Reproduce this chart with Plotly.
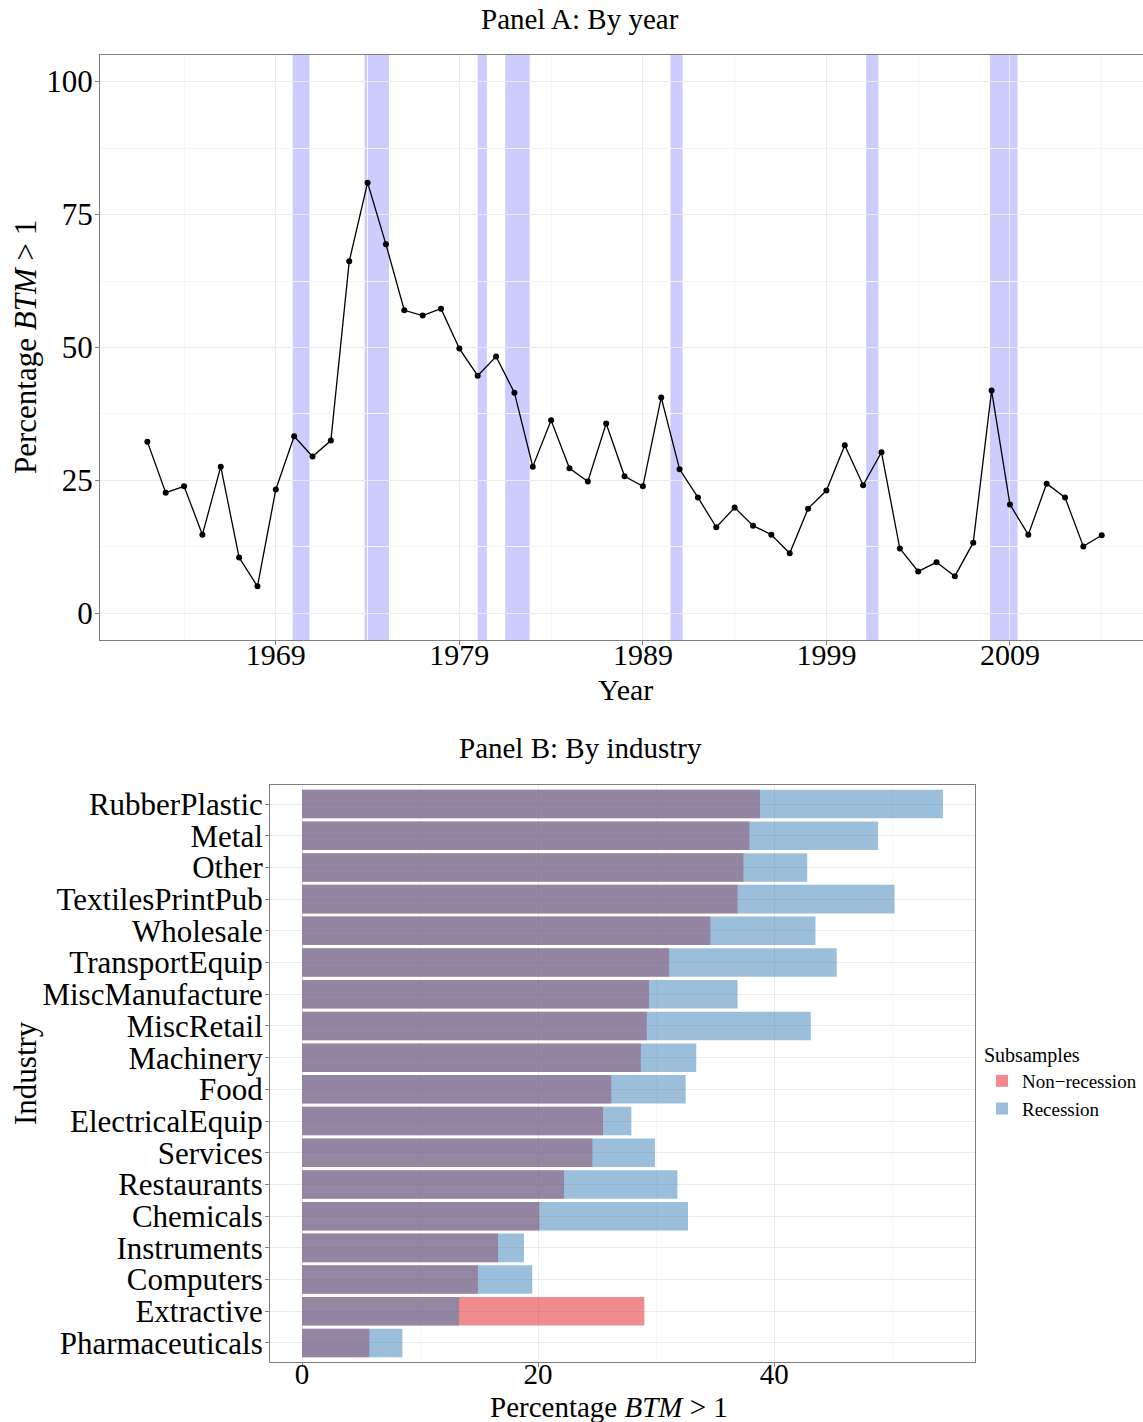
import plotly.graph_objects as go

# ---------------- Data ----------------
years = list(range(1962, 2015))
pct_btm = [32.3, 22.7, 23.9, 14.8, 27.6, 10.5, 5.1, 23.3, 33.3, 29.5,
           32.5, 66.2, 81.0, 69.4, 57.0, 56.0, 57.3, 49.8, 44.7, 48.3,
           41.5, 27.6, 36.3, 27.3, 24.8, 35.7, 25.8, 23.9, 40.6, 27.1,
           21.8, 16.2, 19.9, 16.5, 14.8, 11.3, 19.7, 23.1, 31.6, 24.1,
           30.3, 12.2, 7.9, 9.6, 7.0, 13.3, 41.9, 20.5, 14.8, 24.4,
           21.8, 12.6, 14.7]

recession_start = [1969.917, 1973.833, 1980.0, 1981.5, 1990.5, 2001.167, 2007.917]
recession_end = [1970.833, 1975.167, 1980.5, 1982.833, 1991.167, 2001.833, 2009.417]

year_ticks = [1969, 1979, 1989, 1999, 2009]
year_minor = [1964, 1974, 1984, 1994, 2004, 2014]
pct_ticks = [0, 25, 50, 75, 100]
pct_minor = [12.5, 37.5, 62.5, 87.5]

industries = ["RubberPlastic", "Metal", "Other", "TextilesPrintPub", "Wholesale",
              "TransportEquip", "MiscManufacture", "MiscRetail", "Machinery", "Food",
              "ElectricalEquip", "Services", "Restaurants", "Chemicals", "Instruments",
              "Computers", "Extractive", "Pharmaceuticals"]
non_recession = [38.8, 37.9, 37.4, 36.9, 34.6, 31.1, 29.4, 29.2, 28.7, 26.2,
                 25.5, 24.6, 22.2, 20.1, 16.6, 14.9, 29.0, 5.7]
recession = [54.3, 48.8, 42.8, 50.2, 43.5, 45.3, 36.9, 43.1, 33.4, 32.5,
             27.9, 29.9, 31.8, 32.7, 18.8, 19.5, 13.3, 8.5]
ind_ticks = [0, 20, 40]
ind_minor = [10, 30, 50]

# ---------------- Layout helpers ----------------
W, H = 1143, 1422
def px(x):
    return x / W
def py(y):
    return 1 - y / H

FONT = "Liberation Serif"
GRID = "#EBEBEB"
MINOR = "#F6F6F6"
BORDER = "#7F7F7F"

# bottom-to-top order for the category axis
ind_order = industries[::-1]
nr_order = non_recession[::-1]
r_order = recession[::-1]

fig = go.Figure()

fig.add_trace(go.Scatter(
    x=years, y=pct_btm, mode="lines+markers",
    line=dict(color="black", width=1.3),
    marker=dict(color="black", size=6),
    showlegend=False, xaxis="x", yaxis="y"))

fig.add_trace(go.Bar(
    y=ind_order, x=nr_order, orientation="h", name="Non\u2212recession",
    marker=dict(color="rgba(228,26,28,0.5)", line=dict(width=0)),
    width=0.9, xaxis="x2", yaxis="y2"))
fig.add_trace(go.Bar(
    y=ind_order, x=r_order, orientation="h", name="Recession",
    marker=dict(color="rgba(55,126,184,0.5)", line=dict(width=0)),
    width=0.9, xaxis="x2", yaxis="y2"))

shapes = []
for s, e in zip(recession_start, recession_end):
    shapes.append(dict(type="rect", xref="x", yref="y domain", x0=s, x1=e, y0=0, y1=1,
                       fillcolor="rgba(0,0,255,0.2)", line=dict(width=0), layer="below"))

tickfont = dict(family=FONT, size=30, color="black")

def ann(text, x, y, size=30, angle=0):
    return dict(text=text, x=px(x), y=py(y), showarrow=False,
                xref="paper", yref="paper", xanchor="center", yanchor="middle",
                textangle=angle, font=dict(family=FONT, size=size, color="black"))

annotations = [
    ann("Panel A: By year", 580, 19, 29),
    ann("Panel B: By industry", 580, 748, 29),
    ann("Year", 625, 689),
    ann("Percentage <i>BTM</i> &gt; 1", 25, 347, 31, -90),
    ann("Industry", 25, 1073, 31, -90),
    ann("Percentage <i>BTM</i> &gt; 1", 609, 1407, 29),
]

fig.update_layout(
    width=W, height=H, autosize=False,
    margin=dict(l=0, r=0, t=0, b=0, autoexpand=False),
    paper_bgcolor="white", plot_bgcolor="white",
    barmode="overlay",
    shapes=shapes, annotations=annotations,
    xaxis=dict(domain=[px(100), 1.0], range=[1959.42, 2016.25],
               tickmode="array", tickvals=year_ticks, ticktext=[str(v) for v in year_ticks],
               showgrid=True, gridcolor=GRID, gridwidth=1,
               minor=dict(tickvals=year_minor, showgrid=True, gridcolor=MINOR, gridwidth=1),
               zeroline=False, showline=True, linecolor=BORDER, linewidth=1, mirror=True,
               ticks="outside", ticklen=4, tickcolor=BORDER, tickfont=tickfont,
               ticklabelstandoff=-16, automargin=False, anchor="y"),
    yaxis=dict(domain=[py(640), py(55)], range=[-5, 105],
               tickmode="array", tickvals=pct_ticks,
               showgrid=True, gridcolor=GRID, gridwidth=1,
               minor=dict(tickvals=pct_minor, showgrid=True, gridcolor=MINOR, gridwidth=1),
               zeroline=False, showline=True, linecolor=BORDER, linewidth=1, mirror=False,
               ticks="outside", ticklen=4, tickcolor=BORDER,
               tickfont=dict(family=FONT, size=31, color="black"),
               ticklabelstandoff=-4, automargin=False, anchor="x"),
    xaxis2=dict(domain=[px(270), px(975)], range=[-2.715, 57.015],
                tickmode="array", tickvals=ind_ticks,
                showgrid=True, gridcolor=GRID, gridwidth=1,
                minor=dict(tickvals=ind_minor, showgrid=True, gridcolor=MINOR, gridwidth=1),
                zeroline=False, showline=True, linecolor=BORDER, linewidth=1, mirror=True,
                ticks="outside", ticklen=4, tickcolor=BORDER,
                tickfont=dict(family=FONT, size=29, color="black"),
                ticklabelstandoff=-18, automargin=False, anchor="y2"),
    yaxis2=dict(domain=[py(1362), py(785)], range=[-0.6, 17.6],
                type="category", categoryorder="array", categoryarray=ind_order,
                tickmode="array", tickvals=ind_order, ticktext=ind_order,
                showgrid=True, gridcolor=GRID, gridwidth=1,
                zeroline=False, showline=True, linecolor=BORDER, linewidth=1, mirror=True,
                ticks="outside", ticklen=4, tickcolor=BORDER,
                tickfont=dict(family=FONT, size=31, color="black"),
                ticklabelstandoff=-4, automargin=False, anchor="x2"),
    legend=dict(x=px(982), y=py(1036), xanchor="left", yanchor="top",
                traceorder="normal", bgcolor="rgba(0,0,0,0)",
                title=dict(text="Subsamples", font=dict(family=FONT, size=20, color="black")),
                font=dict(family=FONT, size=19, color="black"),
                itemwidth=30, tracegroupgap=0),
    font=dict(family=FONT, color="black"),
)

fig.write_html("out.html")
